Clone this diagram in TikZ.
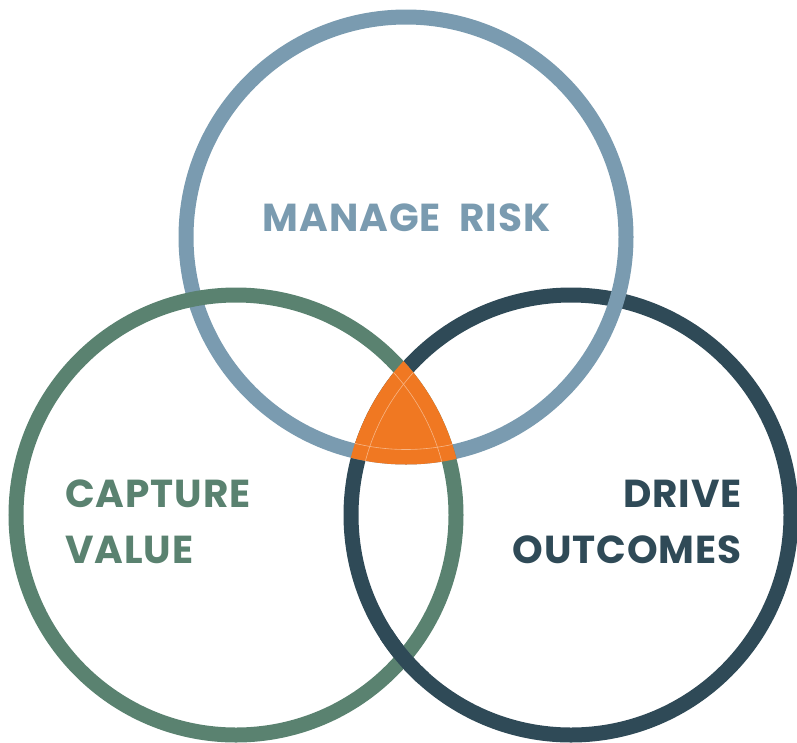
\documentclass[tikz,border=0pt]{standalone}
\usepackage{fontspec}
\newfontfamily\areafont{Poppins}[LetterSpace=2.5,WordSpace=2]
\usetikzlibrary{positioning}

\definecolor{riskblue}{HTML}{7A9BB0}
\definecolor{valuegreen}{HTML}{5A8270}
\definecolor{outcomedark}{HTML}{2F4A57}
\definecolor{coreorange}{HTML}{F07822}

\begin{document}
\begin{tikzpicture}[x=1pt,y=-1pt,
  ring/.style={line width=15pt},
  areatext/.style={font=\areafont\fontsize{39}{46}\selectfont\bfseries,inner sep=0pt},
  seam/.style={line width=0.6pt,draw=coreorange!55!white}
  ]
  \useasboundingbox (0,0) rectangle (797,742);

  \coordinate (risk) at (406,237);
  \coordinate (value) at (236,515);
  \coordinate (outcome) at (571,515);
  \coordinate (lowcross) at (403.5,657.6);

  % rings, woven over and under
  \draw[ring,outcomedark] (outcome) circle (220);
  \draw[ring,riskblue] (risk) circle (220);
  \draw[ring,valuegreen] (value) circle (220);
  \begin{scope}
    \clip (lowcross) circle (30);
    \draw[ring,outcomedark] (outcome) circle (220);
  \end{scope}

  % common core
  \begin{scope}
    \clip (risk) circle (227.5);
    \clip (value) circle (227.5);
    \clip (outcome) circle (227.5);
    \fill[coreorange] (0,0) rectangle (797,742);
    \draw[seam] (risk) circle (212.5);
    \draw[seam] (value) circle (212.5);
    \draw[seam] (outcome) circle (212.5);
  \end{scope}

  \node[areatext,text=riskblue,anchor=base] (risktext) at (406.5,231) {MANAGE RISK};
  \node[areatext,text=valuegreen,anchor=base west] (capturetext) at (65,507.5) {CAPTURE};
  \node[areatext,text=valuegreen,anchor=base west] (valuetext)
    at ([yshift=-56pt]capturetext.base west) {VALUE};
  \node[areatext,text=outcomedark,anchor=base east] (drivetext) at (742,507.5) {DRIVE};
  \node[areatext,text=outcomedark,anchor=base east] (outcomestext)
    at ([yshift=-56pt]drivetext.base east) {OUTCOMES};
\end{tikzpicture}
\end{document}
